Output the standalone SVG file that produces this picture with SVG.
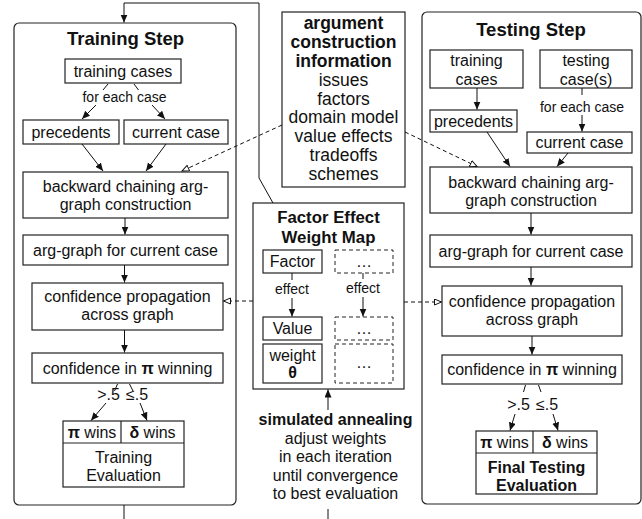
<svg xmlns="http://www.w3.org/2000/svg" width="642" height="519" viewBox="0 0 642 519">
<style>
  text { font-family: "Liberation Sans", Arial, Helvetica, sans-serif; font-size: 16px; fill: #111; text-anchor: middle; }
  .b { font-weight: bold; }
  .t { font-size: 18.5px; font-weight: bold; }
  .m { font-size: 17.5px; }
  .h { font-size: 16.8px; font-weight: bold; }
  .s { font-size: 14px; }
  .frame { fill: #fff; stroke: #222; stroke-width: 1.2; }
  .box { fill: #fff; stroke: #222; stroke-width: 1.2; }
  .dbox { fill: #fff; stroke: #222; stroke-width: 1; stroke-dasharray: 4 3; }
  .div { stroke: #222; stroke-width: 1.2; }
  .ln { fill: none; stroke: #111; stroke-width: 1; }
  .arr { fill: none; stroke: #111; stroke-width: 1; marker-end: url(#ah); }
  .dash { fill: none; stroke: #111; stroke-width: 1; stroke-dasharray: 4 3; marker-end: url(#oh); }
</style>
<defs>
  <marker id="ah" markerUnits="userSpaceOnUse" markerWidth="9" markerHeight="8" refX="8" refY="3.5" orient="auto">
    <path d="M0,0 L8,3.5 L0,7 z" fill="#111"/>
  </marker>
  <marker id="oh" markerUnits="userSpaceOnUse" markerWidth="9" markerHeight="8" refX="7.5" refY="3.5" orient="auto">
    <path d="M0.5,0.5 L7.5,3.5 L0.5,6.5 z" fill="#fff" stroke="#111" stroke-width="1" stroke-dasharray="none"/>
  </marker>
</defs>
<rect width="642" height="519" fill="#fff"/>

<!-- Training Step -->
<g id="training-step">
  <rect class="frame" x="14" y="23" width="222" height="482" rx="5"/>
  <text class="t" x="125.5" y="45">Training Step</text>
</g>
<g id="tr-training-cases">
  <rect class="box" x="65" y="59" width="116" height="24"/>
  <text x="123" y="76.5">training cases</text>
</g>
<g id="tr-precedents">
  <rect class="box" x="23" y="120" width="96" height="24"/>
  <text x="71" y="137.5">precedents</text>
</g>
<g id="tr-current-case">
  <rect class="box" x="124" y="120" width="104" height="24"/>
  <text x="176" y="137.5">current case</text>
</g>
<g id="tr-backward">
  <rect class="box" x="23" y="172" width="205" height="46"/>
  <text x="125.5" y="191.5">backward chaining arg-</text>
  <text x="125.5" y="209.5">graph construction</text>
</g>
<g id="tr-arg-graph">
  <rect class="box" x="23" y="235" width="205" height="30"/>
  <text x="125.5" y="255.5">arg-graph for current case</text>
</g>
<g id="tr-propagation">
  <rect class="box" x="32" y="283" width="191" height="47"/>
  <text x="127.5" y="302">confidence propagation</text>
  <text x="127.5" y="320">across graph</text>
</g>
<g id="tr-confidence">
  <rect class="box" x="32" y="353" width="191" height="30"/>
  <text x="127.5" y="373.5">confidence in <tspan class="b">π</tspan> winning</text>
</g>
<g id="tr-evaluation">
  <rect class="box" x="63" y="421" width="121" height="66"/>
  <line class="div" x1="63" y1="443" x2="184" y2="443"/>
  <line class="div" x1="121" y1="421" x2="121" y2="443"/>
  <text x="92" y="437.5"><tspan class="b">π</tspan> wins</text>
  <text x="152.5" y="437.5"><tspan class="b">δ</tspan> wins</text>
  <text x="123.5" y="463">Training</text>
  <text x="123.5" y="481">Evaluation</text>
</g>

<!-- Shared information -->
<g id="argument-info">
  <rect class="box" x="282" y="12" width="123" height="175"/>
  <text class="m b" x="343.5" y="29.3">argument</text>
  <text class="m b" x="343.5" y="48.1">construction</text>
  <text class="m b" x="343.5" y="66.9">information</text>
  <text class="m" x="343.5" y="85.7">issues</text>
  <text class="m" x="343.5" y="104.5">factors</text>
  <text class="m" x="343.5" y="123.3">domain model</text>
  <text class="m" x="343.5" y="142.1">value effects</text>
  <text class="m" x="343.5" y="160.9">tradeoffs</text>
  <text class="m" x="343.5" y="179.7">schemes</text>
</g>

<g id="weight-map">
  <rect class="box" x="253" y="203" width="151" height="186"/>
  <text class="h" x="328.5" y="223.3">Factor Effect</text>
  <text class="h" x="328.5" y="242.7">Weight Map</text>
  <g id="wm-factor">
    <rect class="box" x="263" y="250" width="59" height="23"/>
    <text x="292.5" y="267">Factor</text>
  </g>
  <g id="wm-value">
    <rect class="box" x="263" y="317" width="59" height="23"/>
    <text x="292.5" y="334">Value</text>
  </g>
  <g id="wm-weight">
    <rect class="box" x="263" y="344" width="59" height="39"/>
    <text x="292.5" y="361">weight</text>
    <text class="b" x="292.5" y="377.5">θ</text>
  </g>
  <g id="wm-more-1">
    <rect class="dbox" x="335" y="250" width="58" height="23"/>
    <text x="364" y="267">…</text>
  </g>
  <g id="wm-more-2">
    <rect class="dbox" x="335" y="317" width="58" height="23"/>
    <text x="364" y="334">…</text>
  </g>
  <g id="wm-more-3">
    <rect class="dbox" x="335" y="344" width="58" height="39"/>
    <text x="364" y="368">…</text>
  </g>
  <text class="s" x="292" y="293.5">effect</text>
  <text class="s" x="363" y="292.5">effect</text>
</g>

<g id="annealing">
  <text class="b" x="335.5" y="425">simulated annealing</text>
  <text x="335.5" y="443.5">adjust weights</text>
  <text x="335.5" y="462">in each iteration</text>
  <text x="335.5" y="480.5">until convergence</text>
  <text x="335.5" y="499">to best evaluation</text>
</g>

<!-- Testing Step -->
<g id="testing-step">
  <rect class="frame" x="422" y="12" width="219" height="492" rx="5"/>
  <text class="t" x="531" y="36">Testing Step</text>
</g>
<g id="te-training-cases">
  <rect class="box" x="430" y="50" width="93" height="38"/>
  <text x="476.5" y="66">training</text>
  <text x="476.5" y="84.5">cases</text>
</g>
<g id="te-testing-cases">
  <rect class="box" x="540" y="50" width="92" height="38"/>
  <text x="586" y="66">testing</text>
  <text x="586" y="84.5">case(s)</text>
</g>
<g id="te-precedents">
  <rect class="box" x="430" y="110" width="87" height="22"/>
  <text x="473.5" y="126.5">precedents</text>
</g>
<g id="te-current-case">
  <rect class="box" x="527" y="132" width="105" height="21"/>
  <text x="579.5" y="148">current case</text>
</g>
<g id="te-backward">
  <rect class="box" x="430" y="167" width="202" height="46"/>
  <text x="531" y="187.5">backward chaining arg-</text>
  <text x="531" y="205.5">graph construction</text>
</g>
<g id="te-arg-graph">
  <rect class="box" x="430" y="235" width="202" height="32"/>
  <text x="531" y="256.5">arg-graph for current case</text>
</g>
<g id="te-propagation">
  <rect class="box" x="442" y="286" width="180" height="50"/>
  <text x="532" y="306.5">confidence propagation</text>
  <text x="532" y="325">across graph</text>
</g>
<g id="te-confidence">
  <rect class="box" x="442" y="355" width="180" height="29"/>
  <text x="532" y="375">confidence in <tspan class="b">π</tspan> winning</text>
</g>
<g id="te-evaluation">
  <rect class="box" x="476" y="431" width="121" height="63"/>
  <line class="div" x1="476" y1="453" x2="597" y2="453"/>
  <line class="div" x1="533" y1="431" x2="533" y2="453"/>
  <text x="504.5" y="448"><tspan class="b">π</tspan> wins</text>
  <text x="565" y="448"><tspan class="b">δ</tspan> wins</text>
  <text class="b" x="536.5" y="472.5">Final Testing</text>
  <text class="b" x="536.5" y="490.5">Evaluation</text>
</g>

<!-- Connectors and their labels -->
<g id="connectors">
  <!-- training step flow -->
  <line class="ln" x1="108" y1="84" x2="103" y2="90"/>
  <line class="ln" x1="134" y1="84" x2="138.5" y2="90"/>
  <text class="s" x="124.5" y="102">for each case</text>
  <line class="arr" x1="96" y1="105" x2="82" y2="119"/>
  <line class="arr" x1="152" y1="105" x2="165" y2="119"/>
  <line class="arr" x1="82" y1="144" x2="103" y2="171"/>
  <line class="arr" x1="166" y1="144" x2="146" y2="171"/>
  <line class="arr" x1="125" y1="218" x2="125" y2="234.5"/>
  <line class="arr" x1="124.5" y1="265" x2="124.5" y2="282.5"/>
  <line class="arr" x1="124.5" y1="330" x2="124.5" y2="352.5"/>
  <line class="ln" x1="117.5" y1="384" x2="114.5" y2="391"/>
  <line class="ln" x1="129.5" y1="384" x2="133" y2="391"/>
  <text x="108.5" y="399.5">&gt;.5</text>
  <text x="137" y="399.5">≤.5</text>
  <line class="arr" x1="106" y1="403" x2="91" y2="420.5"/>
  <line class="arr" x1="140" y1="403" x2="147" y2="420.5"/>

  <!-- training loop driven by the weight map -->
  <polyline class="arr" points="273,203 259,178 259,3 124,3 124,22.5"/>
  <line class="ln" x1="124" y1="505" x2="124" y2="519"/>
  <line class="ln" x1="328" y1="509" x2="328" y2="519"/>
  <line class="arr" x1="328" y1="410" x2="328" y2="389.5"/>

  <!-- weight map internals -->
  <line class="ln" x1="292" y1="273" x2="292" y2="280"/>
  <line class="arr" x1="292" y1="298" x2="292" y2="316.5"/>
  <line class="ln" x1="363" y1="273" x2="363" y2="279"/>
  <line class="arr" x1="363" y1="297" x2="363" y2="316.5"/>

  <!-- shared information feeds -->
  <line class="dash" x1="282" y1="125" x2="182" y2="171"/>
  <line class="dash" x1="405" y1="132" x2="477" y2="166.5"/>
  <line class="dash" x1="253" y1="301" x2="223.5" y2="301"/>
  <line class="dash" x1="404" y1="302" x2="441.5" y2="302"/>

  <!-- testing step flow -->
  <line class="arr" x1="477" y1="88" x2="477" y2="109.5"/>
  <line class="ln" x1="582" y1="88" x2="582" y2="95"/>
  <text class="s" x="582" y="111.5">for each case</text>
  <line class="arr" x1="582" y1="115" x2="582" y2="131.5"/>
  <line class="arr" x1="487" y1="132" x2="510" y2="166.5"/>
  <line class="arr" x1="568" y1="153" x2="557" y2="166.5"/>
  <line class="arr" x1="531" y1="213" x2="531" y2="234.5"/>
  <line class="arr" x1="531" y1="267" x2="531" y2="285.5"/>
  <line class="arr" x1="532" y1="336" x2="532" y2="354.5"/>
  <line class="ln" x1="525.5" y1="385" x2="523.5" y2="392"/>
  <line class="ln" x1="538.5" y1="385" x2="541" y2="392"/>
  <text x="518.5" y="410">&gt;.5</text>
  <text x="547" y="410">≤.5</text>
  <line class="arr" x1="515" y1="414" x2="510" y2="430.5"/>
  <line class="arr" x1="553" y1="414" x2="558" y2="430.5"/>
</g>
</svg>
